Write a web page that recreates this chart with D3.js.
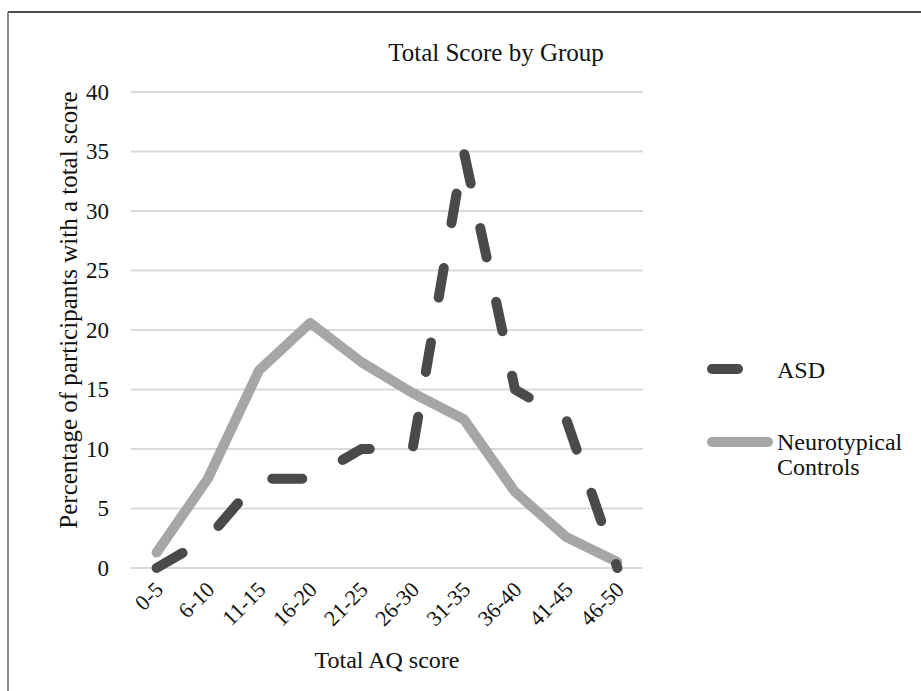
<!DOCTYPE html>
<html>
<head>
<meta charset="utf-8">
<script src="https://cdn.jsdelivr.net/npm/d3@7"></script>
<style>
  html, body { margin: 0; padding: 0; background: #fff; }
  svg { display: block; }
  text { font-family: "Liberation Serif", "Times New Roman", serif; fill: #111; }
</style>
</head>
<body>
<svg id="chart" width="921" height="691"></svg>
<script>
const categories = ["0-5","6-10","11-15","16-20","21-25","26-30","31-35","36-40","41-45","46-50"];
const asdValues = [0, 2.5, 7.5, 7.5, 10, 10, 35, 15, 12.5, 0];
const ntValues = [1.3, 7.5, 16.6, 20.6, 17.3, 14.7, 12.5, 6.4, 2.6, 0.5];
const yTicks = [0, 5, 10, 15, 20, 25, 30, 35, 40];
const seriesNames = ["ASD", "Neurotypical Controls"];

const svg = d3.select("#chart");
const W = 921, H = 691;

// frame
svg.append("line").attr("x1", 8).attr("x2", W).attr("y1", 12).attr("y2", 12)
  .attr("stroke", "#111").attr("stroke-width", 1.5);
svg.append("line").attr("x1", 8).attr("x2", 8).attr("y1", 12).attr("y2", H)
  .attr("stroke", "#666").attr("stroke-width", 1.5);

const x = d3.scaleBand().domain(categories).range([131, 643]);
const y = d3.scaleLinear().domain([0, 40]).range([568, 92]);
const cx = d => x(d) + x.bandwidth() / 2;

// gridlines
svg.append("g").selectAll("line").data(yTicks).join("line")
  .attr("x1", 131).attr("x2", 643)
  .attr("y1", d => y(d)).attr("y2", d => y(d))
  .attr("stroke", "#d9d9d9").attr("stroke-width", 2);

// y axis labels
const yAxis = d3.axisLeft(y).tickValues(yTicks).tickSize(0).tickPadding(0);
const gy = svg.append("g").attr("transform", "translate(109,0)").call(yAxis);
gy.select(".domain").remove();
gy.selectAll("text").attr("font-size", 23).attr("font-family", "Liberation Serif").attr("fill", "#111");

// x axis labels
const xAxis = d3.axisBottom(x).tickSize(0).tickPadding(0);
const gx = svg.append("g").attr("transform", "translate(0,568)").call(xAxis);
gx.select(".domain").remove();
gx.selectAll("text")
  .attr("font-size", 22).attr("font-family", "Liberation Serif").attr("fill", "#111")
  .attr("text-anchor", "end")
  .attr("dy", null).attr("y", 0)
  .attr("transform", "translate(8,23) rotate(-45)");

// lines
const line = d3.line().x((d, i) => cx(categories[i])).y(d => y(d));

svg.append("path").datum(ntValues)
  .attr("d", line).attr("fill", "none")
  .attr("stroke", "#a6a6a6").attr("stroke-width", 10)
  .attr("stroke-linejoin", "round").attr("stroke-linecap", "round");

svg.append("path").datum(asdValues)
  .attr("d", line).attr("fill", "none")
  .attr("stroke", "#4a4a4a").attr("stroke-width", 10)
  .attr("stroke-linejoin", "round").attr("stroke-linecap", "round")
  .attr("stroke-dasharray", "30,45.5");

// title
svg.append("text").attr("x", 496).attr("y", 61).attr("text-anchor", "middle")
  .attr("font-size", 25).text("Total Score by Group");

// axis titles
svg.append("text").attr("transform", "translate(77,310) rotate(-90)")
  .attr("text-anchor", "middle").attr("font-size", 25)
  .text("Percentage of participants with a total score");

svg.append("text").attr("x", 387).attr("y", 668).attr("text-anchor", "middle")
  .attr("font-size", 24).text("Total AQ score");

// legend
const lg = svg.append("g");
lg.append("line").attr("x1", 712).attr("x2", 738).attr("y1", 369).attr("y2", 369)
  .attr("stroke", "#4a4a4a").attr("stroke-width", 10).attr("stroke-linecap", "round");
lg.append("text").attr("x", 777).attr("y", 378).attr("font-size", 24).text(seriesNames[0]);

lg.append("line").attr("x1", 712).attr("x2", 768).attr("y1", 442).attr("y2", 442)
  .attr("stroke", "#a6a6a6").attr("stroke-width", 10).attr("stroke-linecap", "round");
const t2 = lg.append("text").attr("x", 777).attr("y", 450).attr("font-size", 24);
t2.append("tspan").attr("x", 777).text("Neurotypical");
t2.append("tspan").attr("x", 777).attr("dy", 25).text("Controls");
</script>
</body>
</html>
